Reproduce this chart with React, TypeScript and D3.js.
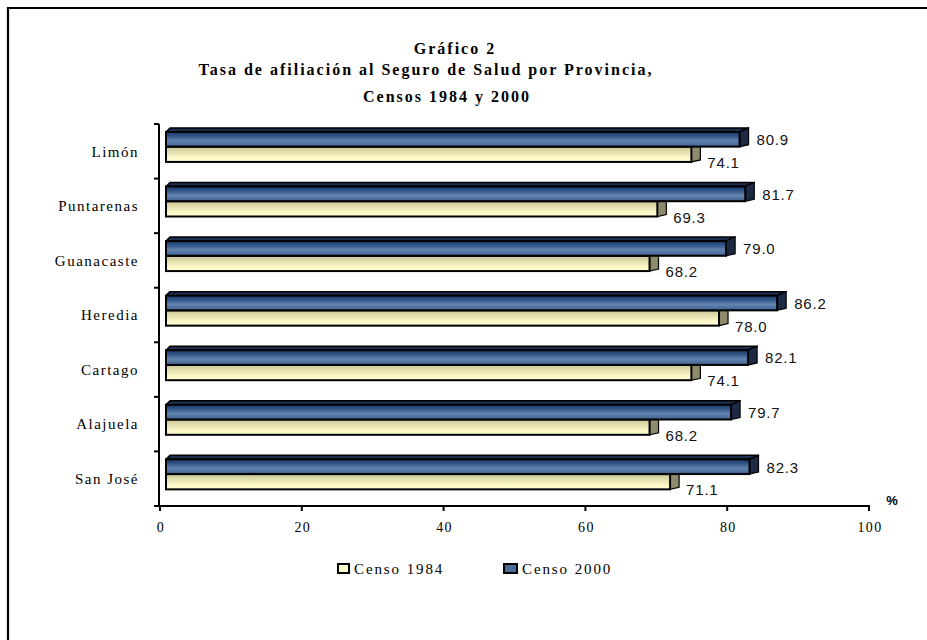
import React from "react";
import * as d3 from "d3";

// Datos: tasa de afiliación (%) por provincia
const provincias = ["Limón", "Puntarenas", "Guanacaste", "Heredia", "Cartago", "Alajuela", "San José"];
const censo1984 = [74.1, 69.3, 68.2, 78.0, 74.1, 68.2, 71.1];
const censo2000 = [80.9, 81.7, 79.0, 86.2, 82.1, 79.7, 82.3];
const xTicks = [0, 20, 40, 60, 80, 100];
const titulo = ["Gráfico 2", "Tasa de afiliación al Seguro de Salud por Provincia,", "Censos 1984 y 2000"];
const series = ["Censo 1984", "Censo 2000"];

const W = 927;
const H = 640;
const serif = "'Liberation Serif', 'Times New Roman', serif";
const sans = "'Liberation Sans', Arial, sans-serif";

export default function App() {
  var x = d3.scaleLinear().domain([0, 100]).range([160, 869]);
  var y = d3.scaleBand().domain(provincias).range([124, 506]).padding(0);
  var bw = y.bandwidth();

  // desplazamiento de la cara frontal (efecto 3D)
  var shift = 6;
  var depthX = 9;
  var depthY = 4;

  var bar = (v, yt, h, kind) => {
    var xs = x(0) + shift;
    var xe = x(v) + shift;
    var yb = yt + h;
    var side = [
      [xe, yt],
      [xe + depthX, yt - depthY],
      [xe + depthX, yb - depthY + 2],
      [xe, yb],
    ];
    var top = [
      [xs, yt],
      [xs + 4, yt - depthY],
      [xe + depthX, yt - depthY],
      [xe, yt],
    ];
    var pts = (p) => p.map((d) => d.join(",")).join(" ");
    return (
      <g>
        {kind === "b" && (
          <polygon points={pts(top)} fill="#1d2f4f" stroke="#000" strokeWidth={1.5} strokeLinejoin="round" />
        )}
        <polygon
          points={pts(side)}
          fill={kind === "b" ? "#1c2a44" : "#8e8b6c"}
          stroke="#000"
          strokeWidth={1.2}
        />
        <rect
          x={xs}
          y={yt}
          width={xe - xs}
          height={h}
          fill={kind === "b" ? "url(#gradBlue)" : "url(#gradYellow)"}
          stroke="#000"
          strokeWidth={2}
        />
      </g>
    );
  };

  return (
    <svg
      width={W}
      height={H}
      style={{ position: "absolute", left: 0, top: 0, background: "#fff" }}
    >
      <defs>
        <linearGradient id="gradBlue" x1="0" y1="0" x2="0" y2="1">
          <stop offset="0" stopColor="#173868" />
          <stop offset="0.3" stopColor="#34578a" />
          <stop offset="0.6" stopColor="#6283ad" />
          <stop offset="0.85" stopColor="#4d6f9d" />
          <stop offset="1" stopColor="#2f5180" />
        </linearGradient>
        <linearGradient id="gradYellow" x1="0" y1="0" x2="0" y2="1">
          <stop offset="0" stopColor="#c9c594" />
          <stop offset="0.35" stopColor="#e2deae" />
          <stop offset="0.7" stopColor="#fbf7c6" />
          <stop offset="1" stopColor="#fffdd2" />
        </linearGradient>
      </defs>

      {/* marco */}
      <path d={`M8,${H} V8 H${W}`} fill="none" stroke="#000" strokeWidth={2.2} />

      {/* título */}
      <g fontFamily={serif} fontWeight="bold" fontSize={16} letterSpacing={2} textAnchor="middle" fill="#000">
        <text x={455} y={54}>{titulo[0]}</text>
        <text x={426} y={75}>{titulo[1]}</text>
        <text x={447} y={102}>{titulo[2]}</text>
      </g>

      {/* barras */}
      {provincias.map((p, i) => {
        var y0 = y(p);
        return (
          <g key={p}>
            {bar(censo1984[i], y0 + 0.415 * bw, 0.28 * bw, "y")}
            {bar(censo2000[i], y0 + 0.145 * bw, 0.27 * bw, "b")}
            <text
              x={x(censo2000[i]) + 23}
              y={y0 + 0.29 * bw}
              dy="0.35em"
              fontFamily={sans}
              fontSize={15}
              letterSpacing={0.8}
              fill="#111"
            >
              {censo2000[i].toFixed(1)}
            </text>
            <text
              x={x(censo1984[i]) + 22}
              y={y0 + 0.71 * bw}
              dy="0.35em"
              fontFamily={sans}
              fontSize={15}
              letterSpacing={0.8}
              fill="#111"
            >
              {censo1984[i].toFixed(1)}
            </text>
            <text
              x={139}
              y={y0 + bw / 2}
              dy="0.35em"
              textAnchor="end"
              fontFamily={serif}
              fontSize={15}
              letterSpacing={1.5}
              fill="#000"
            >
              {p}
            </text>
          </g>
        );
      })}

      {/* eje Y */}
      <line x1={159} x2={159} y1={y.range()[0]} y2={y.range()[1] + 1} stroke="#000" strokeWidth={2} />
      {provincias.concat([null]).map((p, i) => {
        var yy = i < provincias.length ? y(p) : y.range()[1];
        return <line key={"yt" + i} x1={154} x2={159} y1={yy} y2={yy} stroke="#000" strokeWidth={2} />;
      })}

      {/* eje X */}
      <line x1={x(0) - 1} x2={x(100) + 1} y1={506} y2={506} stroke="#000" strokeWidth={2} />
      {xTicks.map((t) => (
        <g key={"xt" + t}>
          <line x1={x(t)} x2={x(t)} y1={506} y2={511} stroke="#000" strokeWidth={2} />
          <text
            x={x(t) + 1}
            y={527}
            dy="0.35em"
            textAnchor="middle"
            fontFamily={serif}
            fontSize={14}
            letterSpacing={1.3}
            fill="#000"
          >
            {t}
          </text>
        </g>
      ))}
      <text x={892} y={500} dy="0.35em" textAnchor="middle" fontFamily={sans} fontWeight="bold" fontSize={13} fill="#000">
        %
      </text>

      {/* leyenda */}
      <g fontFamily={serif} fontSize={15} letterSpacing={1.9} fill="#000">
        <rect x={338} y={564} width={11} height={9} fill="#ffffcc" stroke="#000" strokeWidth={2} />
        <text x={354} y={569} dy="0.35em">{series[0]}</text>
        <rect x={504} y={564} width={13} height={9} fill="#4a6a98" stroke="#000" strokeWidth={2} />
        <text x={522} y={569} dy="0.35em">{series[1]}</text>
      </g>
    </svg>
  );
}
